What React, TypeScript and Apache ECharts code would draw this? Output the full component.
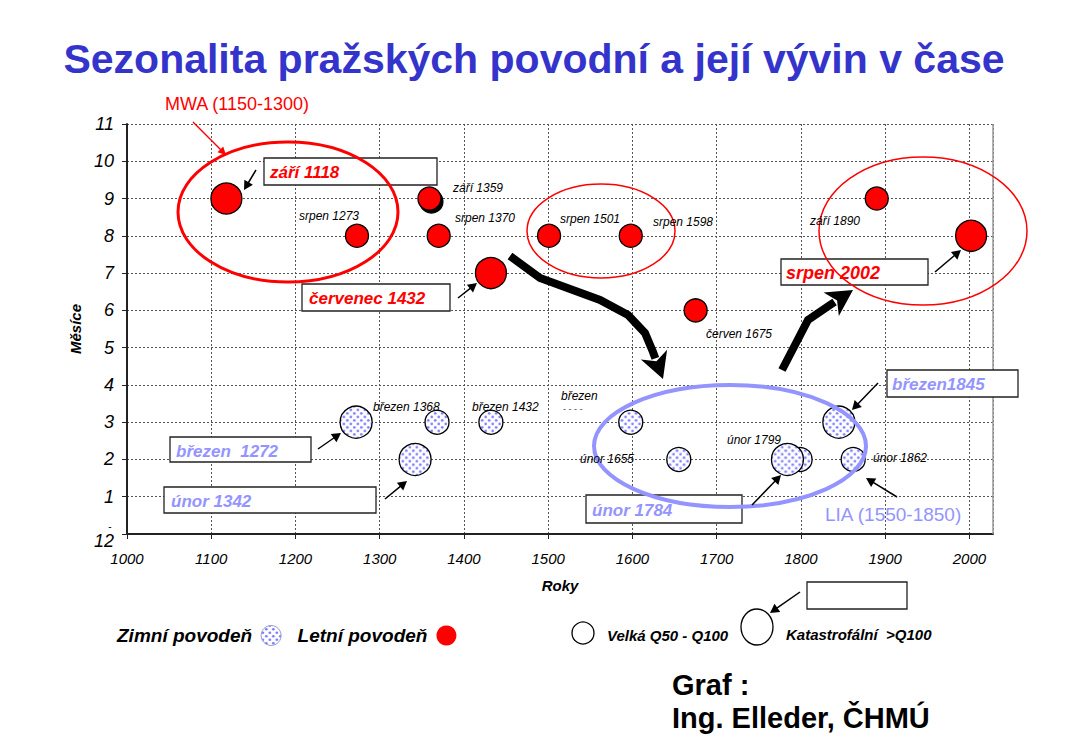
import React, { useEffect, useRef } from "react";
import * as echarts from "echarts";

// ---- data ----
const summerYears = [1118, 1273, 1359, 1370, 1432, 1501, 1598, 1675, 1890, 2002];
const summerMonths = [9, 8, 9, 8, 7, 8, 8, 6, 9, 8];
const summerCatastrophic = [1, 0, 0, 0, 1, 0, 0, 0, 0, 1];

const winterYears = [1272, 1342, 1368, 1432, 1598, 1655, 1799, 1784, 1845, 1862];
const winterMonths = [3, 2, 3, 3, 3, 2, 2, 2, 3, 2];
const winterCatastrophic = [1, 1, 0, 0, 0, 0, 0, 1, 1, 0];

const xTicks = [1000, 1100, 1200, 1300, 1400, 1500, 1600, 1700, 1800, 1900, 2000];
const monthTicks = [0, 1, 2, 3, 4, 5, 6, 7, 8, 9, 10, 11];

const FONT = '"Liberation Sans", Arial, sans-serif';
const RED = "#ff0000";
const LAV = "#9494ff";
const SIZE_NORMAL = 24;
const SIZE_BIG = 32;

function makeDots() {
  const c = document.createElement("canvas");
  c.width = 7;
  c.height = 7;
  const g = c.getContext("2d");
  if (g) {
    g.fillStyle = "#ffffff";
    g.fillRect(0, 0, 7, 7);
    g.fillStyle = "#7878ff";
    g.beginPath();
    g.arc(1.75, 1.75, 1.35, 0, Math.PI * 2);
    g.fill();
    g.beginPath();
    g.arc(5.25, 5.25, 1.35, 0, Math.PI * 2);
    g.fill();
  }
  return c;
}

function arrow(x1: number, y1: number, x2: number, y2: number, color: string, lw: number, headLen: number, headHalf: number) {
  const dx = x2 - x1, dy = y2 - y1;
  const L = Math.hypot(dx, dy);
  const ux = dx / L, uy = dy / L;
  const bx = x2 - ux * headLen, by = y2 - uy * headLen;
  return [
    { type: "line", z: 80, shape: { x1, y1, x2: bx + ux * 2, y2: by + uy * 2 }, style: { stroke: color, lineWidth: lw } },
    {
      type: "polygon", z: 80,
      shape: { points: [[x2, y2], [bx - uy * headHalf, by + ux * headHalf], [bx + uy * headHalf, by - ux * headHalf]] },
      style: { fill: color },
    },
  ];
}

function bigArrow(pts: number[][], tip: number[]) {
  const last = pts[pts.length - 1];
  const dx = tip[0] - last[0], dy = tip[1] - last[1];
  const L = Math.hypot(dx, dy);
  const ux = dx / L, uy = dy / L;
  const headLen = 26, headHalf = 14;
  const bx = tip[0] - ux * headLen, by = tip[1] - uy * headLen;
  return [
    { type: "polyline", z: 80, shape: { points: [...pts, [bx + ux * 4, by + uy * 4]] }, style: { stroke: "#000", lineWidth: 8, fill: null, lineJoin: "miter" } },
    {
      type: "polygon", z: 80,
      shape: { points: [tip, [bx - uy * headHalf, by + ux * headHalf], [bx + ux * 7, by + uy * 7], [bx + uy * headHalf, by - ux * headHalf]] },
      style: { fill: "#000" },
    },
  ];
}

function box(x: number, y: number, w: number, h: number) {
  return { type: "rect", z: 50, shape: { x, y, width: w, height: h }, style: { fill: "#fff", stroke: "#222", lineWidth: 1.3 } };
}

function txt(text: string, x: number, y: number, font: string, fill: string, align = "left") {
  return { type: "text", z: 90, style: { text, x, y, font, fill, textAlign: align, textVerticalAlign: "middle" } };
}

function ell(cx: number, cy: number, rx: number, ry: number, stroke: string, lw: number) {
  return { type: "ellipse", z: 60, shape: { cx, cy, rx, ry }, style: { fill: null, stroke, lineWidth: lw } };
}

export default function App() {
  const ref = useRef<HTMLDivElement>(null);
  useEffect(() => {
    if (!ref.current) return;
    const chart = echarts.init(ref.current, null, { renderer: "svg" });
    const dots = makeDots();
    const legendPattern: any = { image: dots, repeat: "repeat" };
    // scatter symbols are unit paths scaled by size/2, so pre-shrink the tile
    const scaledPattern = (size: number): any => ({ image: dots, repeat: "repeat", scaleX: 2 / size, scaleY: 2 / size });

    const summerData = summerYears.map((y, i) => {
      const item: any = { value: [y, summerMonths[i], summerCatastrophic[i]] };
      if (y === 1359) {
        item.itemStyle = { shadowColor: "#000", shadowOffsetX: 2, shadowOffsetY: 3, shadowBlur: 0 };
      }
      return item;
    });
    const winterData = winterYears.map((y, i) => ({
      value: [y, winterMonths[i], winterCatastrophic[i]],
      itemStyle: { color: scaledPattern(winterCatastrophic[i] ? SIZE_BIG : SIZE_NORMAL) },
    }));

    const boxFont = `italic bold 17px ${FONT}`;
    const smallFont = `italic 12px ${FONT}`;

    const graphics: any[] = [
      // right plot border
      { type: "line", z: 5, shape: { x1: 993, y1: 124, x2: 993, y2: 534 }, style: { stroke: "#999", lineWidth: 1.5 } },
      // small mark above the "12" month label
      txt("-", 110, 526, `10px ${FONT}`, "#000", "center"),
      // annotation boxes
      box(264, 158, 173, 27),
      box(302, 284, 148, 27),
      box(781, 259, 147, 26),
      box(170, 437, 141, 25),
      box(164, 487, 212, 26),
      box(586, 495, 156, 28),
      box(887, 370, 131, 27),
      box(807, 582, 100, 27),
      // ellipses
      ell(288, 212, 110, 70, RED, 3),
      ell(601, 231, 74, 47, RED, 1.5),
      ell(923, 231, 104, 74, RED, 1.5),
      ell(730, 446, 136, 61, LAV, 4),
      // box texts
      txt("září 1118", 270, 172, boxFont, RED),
      txt("červenec 1432", 309, 298, boxFont, RED),
      txt("srpen 2002", 786, 273, `italic bold 18px ${FONT}`, RED),
      txt("březen  1272", 176, 451, boxFont, LAV),
      txt("únor 1342", 171, 501, boxFont, LAV),
      txt("únor 1784", 592, 510, boxFont, LAV),
      txt("březen1845", 892, 384, boxFont, LAV),
      // other labels
      txt("MWA (1150-1300)", 165, 104, `18px ${FONT}`, RED),
      txt("LIA (1550-1850)", 825, 514, `19px ${FONT}`, LAV),
      txt("září 1359", 453, 188, smallFont, "#000"),
      txt("srpen 1273", 299, 216, smallFont, "#000"),
      txt("srpen 1370", 455, 218, smallFont, "#000"),
      txt("srpen 1501", 560, 219, smallFont, "#000"),
      txt("srpen 1598", 653, 222, smallFont, "#000"),
      txt("červen 1675", 706, 334, smallFont, "#000"),
      txt("září 1890", 810, 221, smallFont, "#000"),
      txt("březen 1368", 373, 407, smallFont, "#000"),
      txt("březen 1432", 472, 407, smallFont, "#000"),
      txt("březen", 561, 396, smallFont, "#000"),
      txt("- - - -", 563, 409, `9px ${FONT}`, "#444"),
      txt("únor 1655", 580, 459, smallFont, "#000"),
      txt("únor 1799", 727, 440, smallFont, "#000"),
      txt("únor 1862", 873, 458, smallFont, "#000"),
      // small arrows
      ...arrow(256, 170, 244, 190, "#000", 1.5, 9, 5),
      ...arrow(458, 298, 477, 283, "#000", 1.5, 9, 5),
      ...arrow(935, 272, 961, 250, "#000", 1.5, 9, 5),
      ...arrow(318, 449, 341, 433, "#000", 1.5, 9, 5),
      ...arrow(385, 499, 407, 481, "#000", 1.5, 9, 5),
      ...arrow(752, 505, 781, 475, "#000", 1.5, 9, 5),
      ...arrow(878, 383, 852, 410, "#000", 1.5, 9, 5),
      ...arrow(897, 497, 866, 478, "#000", 1.5, 9, 5),
      ...arrow(193, 122, 226, 155, RED, 1.5, 8, 4),
      ...arrow(800, 592, 770, 613, "#000", 1.5, 9, 5),
      // big trend arrows
      ...bigArrow([[510, 256], [540, 278], [600, 300], [628, 315], [645, 333], [653, 352]], [663, 379]),
      ...bigArrow([[782, 370], [808, 320], [830, 305]], [853, 290]),
      // size legend
      { type: "circle", z: 60, shape: { cx: 583, cy: 633, r: 11 }, style: { fill: "#fff", stroke: "#000", lineWidth: 1.3 } },
      txt("Velká Q50 - Q100", 607, 635, `italic bold 15px ${FONT}`, "#000"),
      { type: "ellipse", z: 60, shape: { cx: 757, cy: 627, rx: 16, ry: 18 }, style: { fill: "#fff", stroke: "#000", lineWidth: 1.3 } },
      txt("Katastrofální  >Q100", 786, 634, `italic bold 15px ${FONT}`, "#000"),
      // credit
      txt("Graf :", 672, 685, `bold 29px ${FONT}`, "#000"),
      txt("Ing. Elleder, ČHMÚ", 672, 718, `bold 29px ${FONT}`, "#000"),
    ];

    chart.setOption({
      animation: false,
      backgroundColor: "#fff",
      textStyle: { fontFamily: FONT },
      title: {
        text: "Sezonalita pražských povodní a její vývin v čase",
        left: "center",
        top: 33,
        textStyle: { fontFamily: FONT, fontSize: 41, fontWeight: "bold", color: "#3434cc" },
      },
      legend: {
        left: 112,
        top: 620,
        align: "right",
        itemGap: 16,
        itemWidth: 20,
        itemHeight: 23,
        icon: "circle",
        textStyle: { fontFamily: FONT, fontSize: 19, fontStyle: "italic", fontWeight: "bold", color: "#000", padding: [0, 4, 0, 0] },
        data: [
          { name: "Zimní povodeň", itemStyle: { color: legendPattern, borderColor: "#9a9ad8", borderWidth: 1 } },
          { name: "Letní povodeň", itemStyle: { borderWidth: 0 } },
        ],
      },
      grid: { left: 127, right: 75, top: 124, bottom: 206 },
      xAxis: {
        type: "value",
        min: xTicks[0],
        max: 2028,
        interval: 100,
        name: "Roky",
        nameLocation: "middle",
        nameGap: 44,
        nameTextStyle: { fontFamily: FONT, fontSize: 15, fontStyle: "italic", fontWeight: "bold", color: "#000" },
        axisLine: { lineStyle: { color: "#222", width: 2 } },
        axisTick: { show: true, length: 5, lineStyle: { color: "#222" } },
        axisLabel: {
          showMaxLabel: false,
          margin: 17,
          fontFamily: FONT,
          fontSize: 15,
          fontStyle: "italic",
          color: "#000",
          formatter: (v: number) => (xTicks.includes(v) ? String(v) : ""),
        },
        splitLine: { show: true, lineStyle: { color: "#555", type: [2, 2], width: 1 } },
      },
      yAxis: {
        type: "value",
        min: monthTicks[0],
        max: monthTicks[monthTicks.length - 1],
        interval: 1,
        name: "Měsíce",
        nameLocation: "middle",
        nameGap: 44,
        nameTextStyle: { fontFamily: FONT, fontSize: 15, fontStyle: "italic", fontWeight: "bold", color: "#000" },
        axisLine: { lineStyle: { color: "#222", width: 2 } },
        axisTick: { show: true, length: 5, lineStyle: { color: "#222" } },
        axisLabel: {
          margin: 13,
          fontFamily: FONT,
          fontSize: 18,
          fontStyle: "italic",
          color: "#000",
          formatter: (v: number) => (v === 0 ? "{low|12}" : String(v)),
          rich: { low: { fontFamily: FONT, fontSize: 18, fontStyle: "italic", color: "#000", padding: [14, 0, 0, 0] } },
        },
        splitLine: { show: true, lineStyle: { color: "#555", type: [2, 2], width: 1 } },
      },
      series: [
        {
          name: "Zimní povodeň",
          type: "scatter",
          z: 20,
          symbol: "circle",
          symbolSize: (v: number[]) => (v[2] ? SIZE_BIG : SIZE_NORMAL),
          itemStyle: { color: legendPattern, borderColor: "#000", borderWidth: 1.3, opacity: 1 },
          data: winterData,
        },
        {
          name: "Letní povodeň",
          type: "scatter",
          z: 20,
          symbol: "circle",
          symbolSize: (v: number[]) => (v[2] ? 31 : 23),
          itemStyle: { color: RED, borderColor: "#000", borderWidth: 1.3, opacity: 1 },
          data: summerData,
        },
      ],
      graphic: { elements: graphics },
    });

    return () => chart.dispose();
  }, []);

  return <div ref={ref} style={{ position: "fixed", left: 0, top: 0, width: 1068, height: 740 }} />;
}
